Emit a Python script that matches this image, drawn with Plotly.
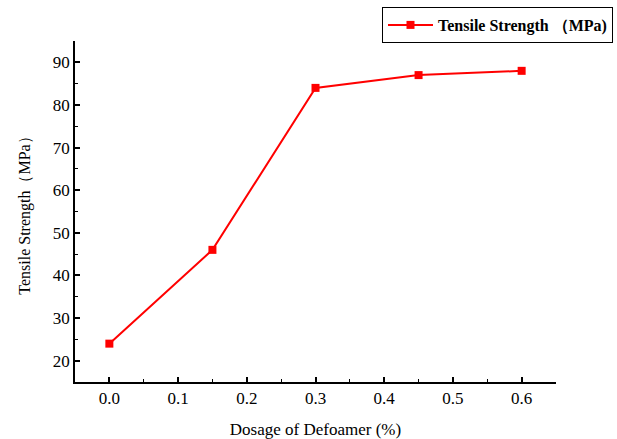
import plotly.graph_objects as go

dosage = [0.0, 0.15, 0.3, 0.45, 0.6]
strength = [24, 46, 84, 87, 88]
series_name = "<b>Tensile Strength （MPa)</b>"
x_title = "Dosage of Defoamer (%)"
y_title = "Tensile Strength（MPa）"

font_family = "Liberation Serif, Times New Roman, serif"

fig = go.Figure()
fig.add_trace(go.Scatter(
    x=dosage, y=strength, mode="lines+markers", name=series_name,
    line=dict(color="#ff0000", width=2),
    marker=dict(symbol="square", size=8, color="#ff0000"),
))

fig.update_layout(
    width=617, height=439,
    margin=dict(l=75, r=61, t=41, b=57, autoexpand=False),
    paper_bgcolor="white", plot_bgcolor="white",
    font=dict(family=font_family, size=16, color="black"),
    showlegend=True,
    legend=dict(
        x=613 / 617, y=1 - 7 / 439, xanchor="right", yanchor="top",
        xref="container", yref="container",
        bordercolor="black", borderwidth=1,
        font=dict(family=font_family, size=16, color="black"),
        bgcolor="white", itemwidth=45,
    ),
    xaxis=dict(
        range=[-0.05, 0.65], tickvals=[0, 0.1, 0.2, 0.3, 0.4, 0.5, 0.6],
        tickformat=".1f",
        ticks="inside", ticklen=5, tickwidth=1.5, tickcolor="black",
        minor=dict(ticks="inside", ticklen=3, tickwidth=1, tickcolor="black", dtick=0.05),
        showline=True, linecolor="black", linewidth=1.5,
        showgrid=False, zeroline=False,
        title=dict(text=x_title, font=dict(size=17), standoff=16),
        tickfont=dict(size=17),
    ),
    yaxis=dict(
        range=[15, 95], tickvals=[20, 30, 40, 50, 60, 70, 80, 90],
        ticks="inside", ticklen=5, tickwidth=1.5, tickcolor="black",
        minor=dict(ticks="inside", ticklen=3, tickwidth=1, tickcolor="black", dtick=5),
        showline=True, linecolor="black", linewidth=1.5,
        showgrid=False, zeroline=False,
        title=dict(text=y_title, font=dict(size=16), standoff=18),
        tickfont=dict(size=17),
    ),
)

fig.write_html("out.html")
